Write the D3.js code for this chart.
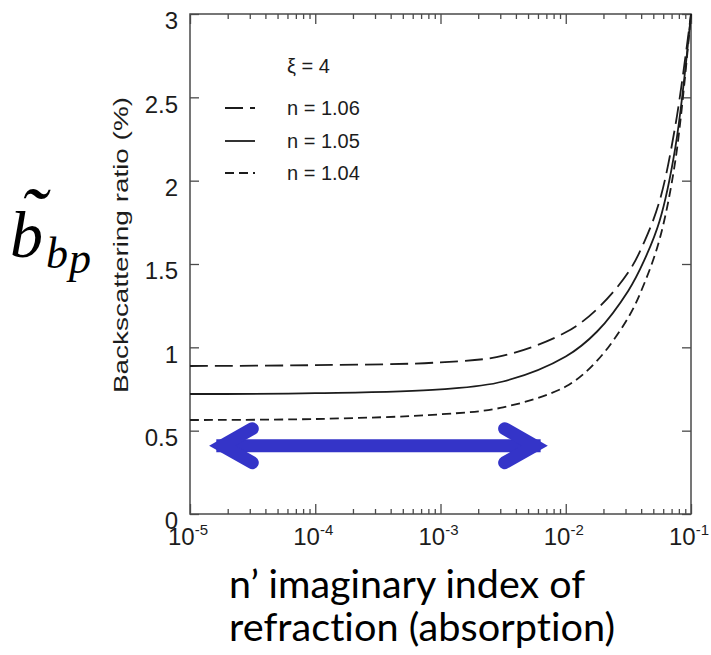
<!DOCTYPE html>
<html>
<head>
<meta charset="utf-8">
<script src="https://cdn.jsdelivr.net/npm/d3@7"></script>
<style>
  html, body { margin: 0; padding: 0; background: #fff; }
  svg { display: block; }
  text { font-variant-ligatures: none; }
</style>
</head>
<body>
<svg id="chart" width="711" height="655"></svg>
<script>
// Imaginary part of the refractive index (x axis, log scale)
const nPrime = [1e-5, 1e-4, 1e-3, 0.00316, 0.01, 0.0178, 0.0316, 0.0422, 0.0562, 0.075, 0.1];

// Backscattering ratio (%) for each real index n
const ratioN106 = [0.888, 0.893, 0.91, 0.95, 1.09, 1.23, 1.45, 1.63, 1.88, 2.33, 3.0];
const ratioN105 = [0.72, 0.725, 0.748, 0.795, 0.945, 1.095, 1.34, 1.52, 1.76, 2.2, 3.0];
const ratioN104 = [0.564, 0.57, 0.598, 0.64, 0.765, 0.92, 1.18, 1.38, 1.65, 2.12, 3.0];

const seriesLabels = ["n = 1.06", "n = 1.05", "n = 1.04"];
const legendTitle = "ξ = 4";

const xMajorTicks = [1e-5, 1e-4, 1e-3, 1e-2, 1e-1];
const xTickExponents = ["-5", "-4", "-3", "-2", "-1"];
const yTickValues = [0, 0.5, 1, 1.5, 2, 2.5, 3];
const yTickLabels = ["0", "0.5", "1", "1.5", "2", "2.5", "3"];

// Range of n' highlighted by the double arrow, and the ratio level it sits at
const arrowSpan = [1.4e-5, 7.3e-3];
const arrowLevel = [0.41];

const svg = d3.select("#chart");

const x = d3.scaleLog().domain([1e-5, 1e-1]).range([190, 691]);
const y = d3.scaleLinear().domain([0, 3]).range([514, 14]);

const axisColor = "#4a4a4a";
const inkColor = "#1c1c1c";
const labelFont = "'Liberation Sans', Arial, Helvetica, sans-serif";

// minor decade ticks 2..9 for the log axis
const xMinorTicks = [];
for (let e = -5; e < -1; e++) {
  for (let m = 2; m <= 9; m++) xMinorTicks.push(m * Math.pow(10, e));
}

function styleAxis(g) {
  g.select(".domain").remove();
  g.selectAll(".tick line").attr("stroke", axisColor).attr("stroke-width", 1.3);
}

// bottom axis ticks (pointing inward)
svg.append("g").attr("transform", `translate(0,${y(0)})`)
  .call(d3.axisBottom(x).tickValues(xMinorTicks).tickSize(-5).tickFormat(""))
  .call(styleAxis);
svg.append("g").attr("transform", `translate(0,${y(0)})`)
  .call(d3.axisBottom(x).tickValues(xMajorTicks).tickSize(-10).tickFormat(""))
  .call(styleAxis);

// top axis ticks (pointing inward)
svg.append("g").attr("transform", `translate(0,${y(3)})`)
  .call(d3.axisTop(x).tickValues(xMinorTicks).tickSize(-5).tickFormat(""))
  .call(styleAxis);
svg.append("g").attr("transform", `translate(0,${y(3)})`)
  .call(d3.axisTop(x).tickValues(xMajorTicks).tickSize(-10).tickFormat(""))
  .call(styleAxis);

// left axis with labels
const yAxisLeft = svg.append("g").attr("transform", `translate(${x(1e-5)},0)`)
  .call(d3.axisLeft(y).tickValues(yTickValues).tickSize(-9).tickPadding(12)
    .tickFormat((d, i) => yTickLabels[i]))
  .call(styleAxis);
yAxisLeft.selectAll(".tick text")
  .attr("font-family", labelFont)
  .attr("font-size", 24)
  .attr("fill", inkColor)
  .attr("dy", "0.62em");

// right axis ticks
svg.append("g").attr("transform", `translate(${x(1e-1)},0)`)
  .call(d3.axisRight(y).tickValues(yTickValues).tickSize(-9).tickFormat(""))
  .call(styleAxis);

// plot frame
svg.append("rect")
  .attr("x", x(1e-5)).attr("y", y(3))
  .attr("width", x(1e-1) - x(1e-5)).attr("height", y(0) - y(3))
  .attr("fill", "none").attr("stroke", axisColor).attr("stroke-width", 1.5);

// x tick labels as 10 with a superscript exponent
const xLabels = svg.append("g")
  .attr("font-family", labelFont).attr("fill", inkColor);
xMajorTicks.forEach((v, i) => {
  const t = xLabels.append("text")
    .attr("x", x(v) - 2).attr("y", 545)
    .attr("text-anchor", "middle")
    .attr("font-size", 24);
  t.append("tspan").text("10");
  t.append("tspan").attr("font-size", 15).attr("dy", -10).text(xTickExponents[i]);
});

// y axis title
svg.append("text")
  .attr("transform", "translate(128,245) rotate(-90)")
  .attr("text-anchor", "middle")
  .attr("font-family", labelFont)
  .attr("font-size", 21)
  .attr("fill", inkColor)
  .attr("textLength", 296)
  .attr("lengthAdjust", "spacingAndGlyphs")
  .text("Backscattering ratio (%)");

// curves
const series = [
  { values: ratioN106, dash: "18,7" },
  { values: ratioN105, dash: null },
  { values: ratioN104, dash: "9,5" }
];
const line = d3.line()
  .x(d => x(d[0]))
  .y(d => y(d[1]))
  .curve(d3.curveCatmullRom.alpha(0.5));

series.forEach(s => {
  svg.append("path")
    .datum(nPrime.map((v, i) => [v, s.values[i]]))
    .attr("d", line)
    .attr("fill", "none")
    .attr("stroke", inkColor)
    .attr("stroke-width", 1.8)
    .attr("stroke-dasharray", s.dash);
});

// legend
const legend = svg.append("g")
  .attr("font-family", labelFont).attr("fill", inkColor).attr("font-size", 20);
legend.append("text").attr("x", 287).attr("y", 73).text(legendTitle);
const rowBase = [115, 148, 180];
series.forEach((s, i) => {
  legend.append("line")
    .attr("x1", 225).attr("x2", 255)
    .attr("y1", rowBase[i] - 7).attr("y2", rowBase[i] - 7)
    .attr("stroke", inkColor).attr("stroke-width", 1.8)
    .attr("stroke-dasharray", s.dash);
  legend.append("text").attr("x", 287).attr("y", rowBase[i]).text(seriesLabels[i]);
});

// double-headed arrow marking the absorption range
const arrowColor = "#3434c8";
const ay = y(arrowLevel[0]);
const xl = x(arrowSpan[0]), xr = x(arrowSpan[1]);
const arrow = svg.append("g")
  .attr("fill", "none").attr("stroke", arrowColor).attr("stroke-width", 13);
arrow.append("line")
  .attr("x1", xl + 8).attr("x2", xr - 8).attr("y1", ay).attr("y2", ay);
arrow.append("path")
  .attr("stroke-linecap", "round").attr("stroke-linejoin", "miter")
  .attr("d", `M${xl + 44},${ay - 17} L${xl + 14},${ay} L${xl + 44},${ay + 17}`);
arrow.append("path")
  .attr("stroke-linecap", "round").attr("stroke-linejoin", "miter")
  .attr("d", `M${xr - 44},${ay - 17} L${xr - 14},${ay} L${xr - 44},${ay + 17}`);

// x axis title (two lines)
const xTitle = svg.append("g")
  .attr("font-family", "Lato, 'Open Sans', sans-serif")
  .attr("font-size", 39).attr("fill", "#000");
xTitle.append("text").attr("x", 229).attr("y", 598)
  .attr("textLength", 356).attr("lengthAdjust", "spacingAndGlyphs")
  .text("n’ imaginary index of");
xTitle.append("text").attr("x", 229).attr("y", 641)
  .attr("textLength", 386).attr("lengthAdjust", "spacingAndGlyphs")
  .text("refraction (absorption)");

// symbol: b-tilde with subscript b_p
const sym = svg.append("g")
  .attr("font-family", "'Liberation Serif', 'Times New Roman', serif")
  .attr("font-style", "italic").attr("fill", "#000");
sym.append("text").attr("x", 10).attr("y", 257).attr("font-size", 66).text("b");
sym.append("text").attr("x", 19).attr("y", 243).attr("font-size", 80).text("˜");
sym.append("text").attr("x", 46).attr("y", 268).attr("font-size", 44).text("b");
sym.append("text").attr("x", 69).attr("y", 273).attr("font-size", 44).text("p");
</script>
</body>
</html>
